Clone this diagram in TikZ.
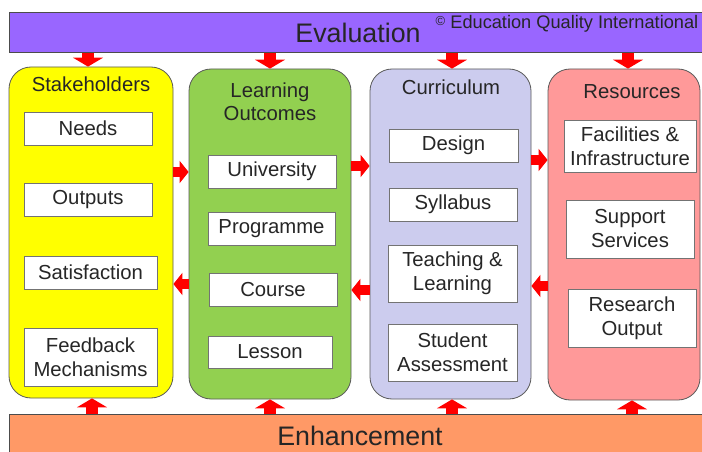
\documentclass[tikz,border=0pt]{standalone}
\usepackage{fontspec}
\setmainfont{Liberation Sans}
\usepackage{xcolor}
\usepackage{tikz}
\usetikzlibrary{arrows.meta}

\definecolor{evalpurple}{HTML}{9966FF}
\definecolor{enhorange}{HTML}{FF9966}
\definecolor{stakeyellow}{HTML}{FFFF00}
\definecolor{logreen}{HTML}{92D050}
\definecolor{currlav}{HTML}{CCCCEE}
\definecolor{respink}{HTML}{FF9999}

\begin{document}
\begin{tikzpicture}[x=1pt,y=-1pt,
  bar/.style={draw=black!70, line width=0.8pt, anchor=north west, inner sep=0pt},
  column/.style={draw=black!65, line width=0.8pt, rounded corners=22pt, inner sep=0pt},
  itembox/.style={draw=black!55, line width=0.7pt, fill=white, inner sep=0pt, align=center,
    text=black!85, font=\fontsize{20.3}{24}\selectfont},
  title/.style={align=center, text=black!85, font=\fontsize{20.3}{23}\selectfont},
  bigtext/.style={text=black!85, font=\fontsize{26.8}{30}\selectfont},
  hblock/.style={draw=red, line width=10pt, -{Triangle[width=22pt,length=9pt]}},
  vblock/.style={draw=red, line width=12pt, -{Triangle[width=30pt,length=9pt]}}]
\useasboundingbox (0,0) rectangle (702,452);

% Top and bottom bars
\node[bar, fill=evalpurple, minimum width=720pt, minimum height=40pt] (eval) at (9,12) {};
\node[bar, fill=enhorange, minimum width=720pt, minimum height=45pt] (enh) at (9,414) {};
\node[bigtext] (evaltext) at (358,33) {Evaluation};
\node[text=black!85, font=\fontsize{18.2}{20}\selectfont] (copy) at (567,24)
  {{\fontsize{13}{13}\selectfont\raisebox{3pt}{©}} Education Quality International};
\node[bigtext] (enhtext) at (360,436) {Enhancement};

% Columns
\node[column, fill=stakeyellow, minimum width=164pt, minimum height=331pt] (stake) at (91,232.5) {};
\node[column, fill=logreen, minimum width=162pt, minimum height=330pt] (lo) at (270,234) {};
\node[column, fill=currlav, minimum width=161pt, minimum height=330pt] (curr) at (450.5,234) {};
\node[column, fill=respink, minimum width=152pt, minimum height=331pt] (res) at (624,234.5) {};

\node[title] (staketitle) at (91,84) {Stakeholders};
\node[title] (lotitle) at (270,102) {Learning\\Outcomes};
\node[title] (currtitle) at (451,87) {Curriculum};
\node[title] (restitle) at (632,92) {Resources};

% Stakeholders
\node[itembox, minimum width=128pt, minimum height=33pt] (needs) at (88,128.5) {Needs};
\node[itembox, minimum width=128pt, minimum height=33pt] (outputs) at (88,199.5) {Outputs};
\node[itembox, minimum width=133pt, minimum height=33pt] (satisf) at (90.5,272.5) {Satisfaction};
\node[itembox, minimum width=133pt, minimum height=58pt] (feedback) at (90.5,357) {Feedback\\Mechanisms};

% Learning outcomes
\node[itembox, minimum width=128pt, minimum height=33pt] (univ) at (272,171.5) {University};
\node[itembox, minimum width=127pt, minimum height=33pt] (prog) at (271.5,228.5) {Programme};
\node[itembox, minimum width=128pt, minimum height=33pt] (course) at (273,289.5) {Course};
\node[itembox, minimum width=124pt, minimum height=32pt] (lesson) at (270,352) {Lesson};

% Curriculum
\node[itembox, minimum width=129pt, minimum height=33pt] (design) at (453.5,145.5) {Design};
\node[itembox, minimum width=128pt, minimum height=33pt] (syll) at (453,204.5) {Syllabus};
\node[itembox, minimum width=129pt, minimum height=57pt] (teach) at (452.5,273.5) {Teaching \&\\Learning};
\node[itembox, minimum width=129pt, minimum height=57pt] (assess) at (452.5,352.5) {Student\\Assessment};

% Resources
\node[itembox, minimum width=132pt, minimum height=52pt] (facil) at (630,146) {Facilities \&\\Infrastructure};
\node[itembox, minimum width=128pt, minimum height=58pt] (support) at (630,229) {Support\\Services};
\node[itembox, minimum width=128pt, minimum height=58pt] (research) at (632,318) {Research\\Output};

% Arrows down from evaluation, up from enhancement
\foreach \x/\col in {88/stake, 270/lo, 452/curr, 628/res}
  \draw[vblock] (\x,0 |- eval.south) -- (\x,0 |- \col.north);
\foreach \x/\col in {92/stake, 270/lo, 452/curr, 632/res}
  \draw[vblock] (\x,0 |- enh.north) -- (\x,0 |- \col.south);

% Arrows between columns
\draw[hblock] (stake.east |- 0,172) -- (lo.west |- 0,172);
\draw[hblock] (lo.east |- 0,166) -- (curr.west |- 0,166);
\draw[hblock] (curr.east |- 0,160) -- (res.west |- 0,160);
\draw[hblock] (lo.west |- 0,284) -- (stake.east |- 0,284);
\draw[hblock] (curr.west |- 0,290) -- (lo.east |- 0,290);
\draw[hblock] (res.west |- 0,286) -- (curr.east |- 0,286);
\end{tikzpicture}
\end{document}
